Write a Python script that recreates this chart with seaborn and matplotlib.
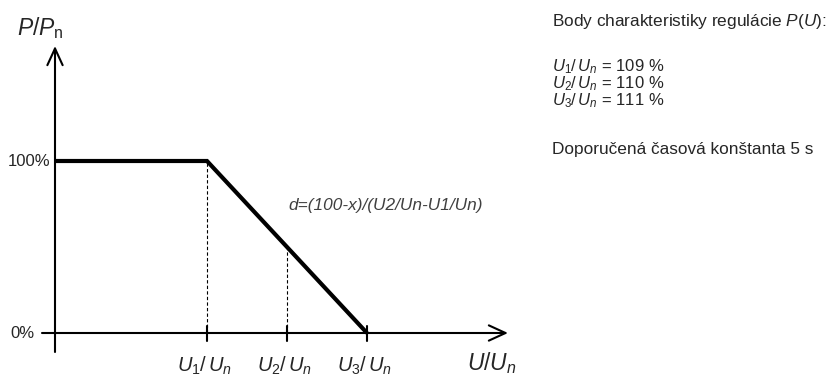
import matplotlib
matplotlib.use("Agg")
import matplotlib.pyplot as plt
import seaborn as sns
import pandas as pd

# Regulation points U/Un in % and the P(U) characteristic
u_points = [109, 110, 111]            # U1/Un, U2/Un, U3/Un
u_names = ["1", "2", "3"]
u_axis_origin = 107.1                 # where the P axis crosses the U axis
curve_u = [u_axis_origin, 109, 111]
curve_p = [100, 100, 0]
p_at_u2 = 50
p_ticks = [0, 100]
p_tick_labels = ["0%", "100%"]
time_constant = 5

sns.set_theme(style="white")
plt.rcParams["font.family"] = ["Liberation Sans", "DejaVu Sans"]
plt.rcParams["mathtext.fontset"] = "custom"
plt.rcParams["mathtext.rm"] = "Liberation Sans"
plt.rcParams["mathtext.it"] = "Liberation Sans:italic"

W, H = 828, 378
fig = plt.figure(figsize=(W / 100, H / 100), dpi=100)
ax = fig.add_axes([0, 0, 1, 1])
ax.axis("off")

# 80 px per percent of U/Un, 1.72 px per percent of P/Pn
U0, PX_U = 109 - 207 / 80, 80.0
P_TOP, PX_P = 333 / 1.72, 1.72
ax.set_xlim(U0, U0 + W / PX_U)
ax.set_ylim(P_TOP - H / PX_P, P_TOP)


def ux(px):
    return U0 + px / PX_U


def py(px):
    return P_TOP - px / PX_P


arrow = dict(arrowstyle="->,head_length=1.2,head_width=0.55", lw=1.5,
             color="black", shrinkA=0, shrinkB=0, mutation_scale=10)
# U axis and P axis
ax.annotate("", xy=(ux(508), 0), xytext=(ux(42), 0), arrowprops=arrow)
ax.annotate("", xy=(u_axis_origin, py(46)), xytext=(u_axis_origin, py(352)),
            arrowprops=arrow)

# characteristic
df = pd.DataFrame({"u": curve_u, "p": curve_p})
sns.lineplot(data=df, x="u", y="p", color="black", lw=3, sort=False, ax=ax,
             solid_joinstyle="miter", solid_capstyle="butt")

# guide lines
ax.plot([u_points[0]] * 2, [0, 100], color="black", lw=0.8, ls=(0, (3, 2)))
ax.plot([u_points[1]] * 2, [0, p_at_u2], color="black", lw=0.8, ls=(0, (3, 2)))

# ticks and their labels on the U axis
for u, n in zip(u_points, u_names):
    ax.plot([u, u], [py(326), py(341)], color="black", lw=1.5)
    ax.text(u - 2 / PX_U, py(372), rf"$U_{{\mathit{{{n}}}}}/\,U_n$",
            fontsize=14.5, ha="center", va="baseline")

for p, lab, right in zip(p_ticks, p_tick_labels, [35, 50]):
    ax.text(ux(right), p, lab, fontsize=12, ha="right", va="center")

ax.text(ux(467), py(370), r"$U/U_n$", fontsize=16.5, ha="left",
        va="baseline")
ax.text(ux(17), py(35), r"$P/P_{\mathrm{n}}$", fontsize=16.5, ha="left",
        va="baseline")

ax.text(ux(288), py(210), "d=(100-x)/(U2/Un-U1/Un)", fontsize=12.4,
        style="italic", color="#404040", ha="left", va="baseline")

# side notes
x0 = 552 / W
fig.text(x0, 1 - 26 / H, r"Body charakteristiky regulácie $P$($U$):",
         fontsize=12.4, ha="left", va="baseline")
for i, (u, n) in enumerate(zip(u_points, u_names)):
    fig.text(x0, 1 - (71 + 17 * i) / H,
             rf"$U_{{\mathit{{{n}}}}}/\,U_n$ = {u} %",
             fontsize=12, ha="left", va="baseline")
fig.text(x0, 1 - 154 / H, f"Doporučená časová konštanta {time_constant} s",
         fontsize=12.4, ha="left", va="baseline")

fig.savefig("out.png", dpi=100)
